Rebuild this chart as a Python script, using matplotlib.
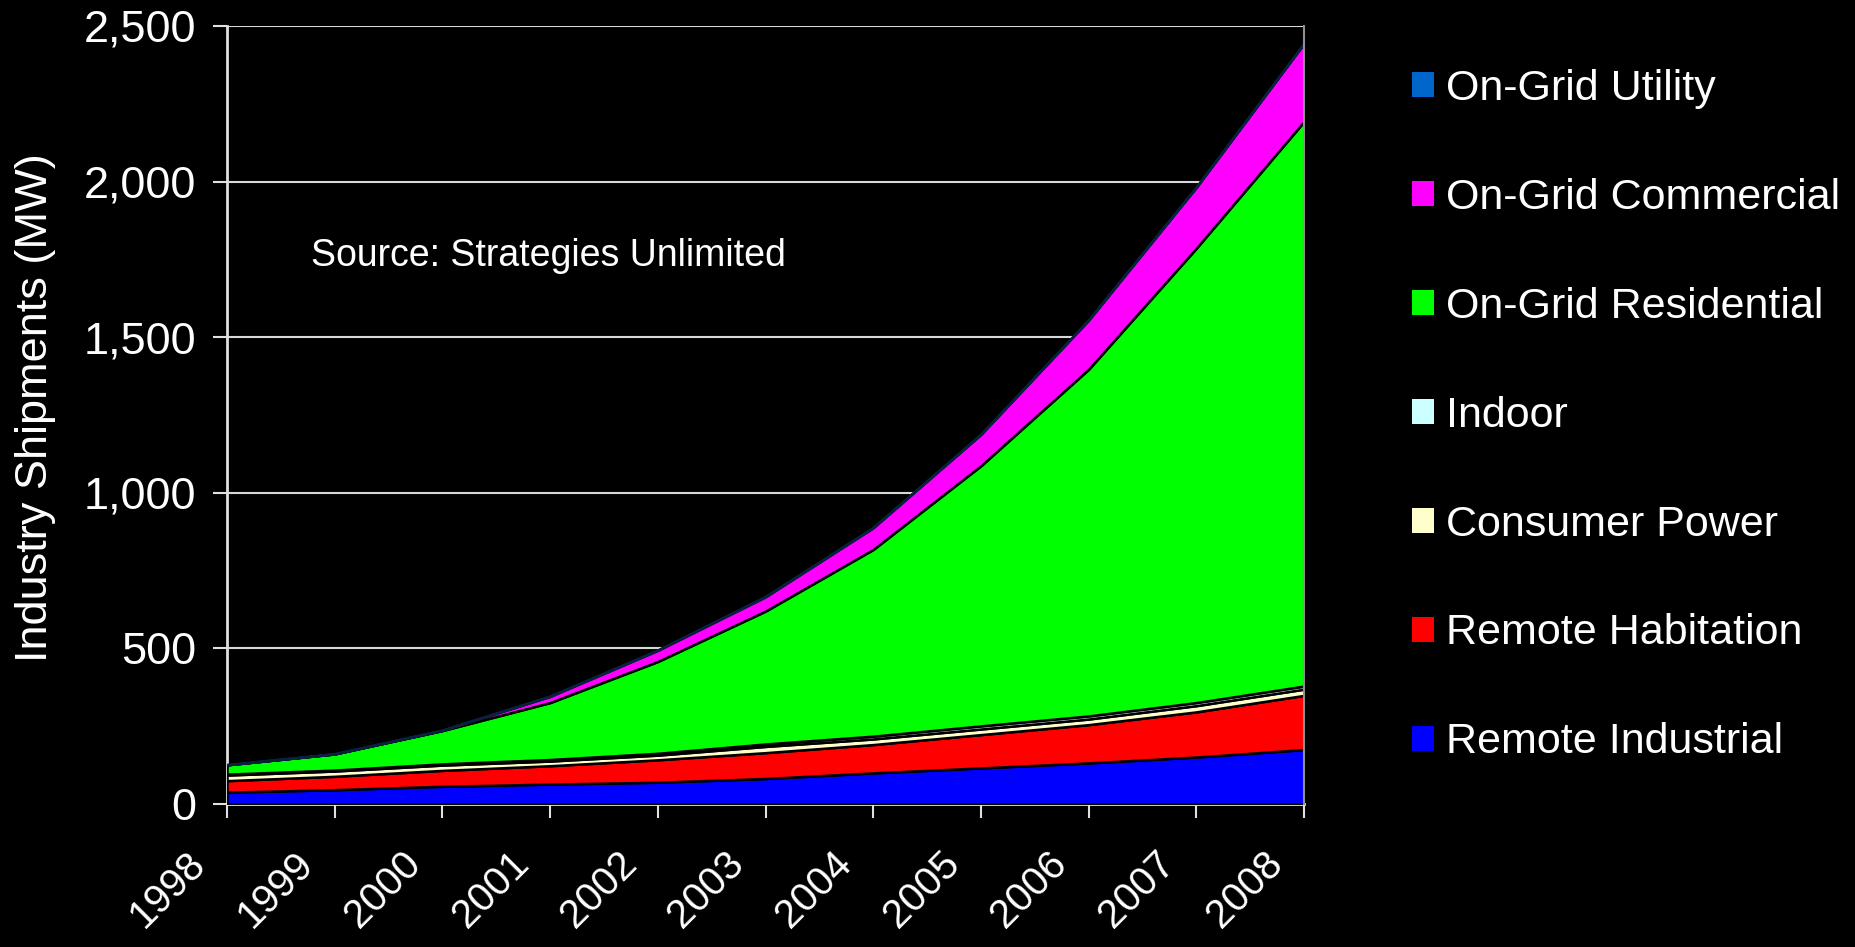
import matplotlib
matplotlib.use("Agg")
import matplotlib.pyplot as plt
from matplotlib.patches import Patch
from matplotlib.transforms import ScaledTranslation
import numpy as np

# ---- data (MW) ----
years = [1998, 1999, 2000, 2001, 2002, 2003, 2004, 2005, 2006, 2007, 2008]
remote_industrial = [38, 46, 57, 64, 70, 82, 100, 116, 132, 151, 175]
remote_habitation = [37, 43, 51, 59, 72, 83, 91, 107, 123, 145, 174]
consumer_power = [18, 17, 17, 15, 15, 20, 18, 18, 18, 20, 20]
indoor = [3, 3, 4, 5, 6, 8, 9, 10, 10, 10, 10]
ongrid_residential = [30, 52, 107, 183, 295, 427, 600, 836, 1114, 1460, 1814]
ongrid_commercial = [0, 0, 1, 20, 36, 46, 70, 101, 158, 196, 251]
ongrid_utility = [1, 1, 1, 1, 1, 1, 1, 1, 1, 1, 1]

series_names = ["Remote Industrial", "Remote Habitation", "Consumer Power", "Indoor",
                "On-Grid Residential", "On-Grid Commercial", "On-Grid Utility"]
series_colors = ["#0000FF", "#FF0000", "#FFFFCC", "#CCFFFF", "#00FF00", "#FF00FF", "#0066CC"]
y_ticks = [0, 500, 1000, 1500, 2000, 2500]
y_tick_labels = ["0", "500", "1,000", "1,500", "2,000", "2,500"]

plt.rcParams['font.family'] = ['Liberation Sans', 'DejaVu Sans']

fig = plt.figure(figsize=(18.56, 9.47), dpi=100, facecolor='black')
ax = fig.add_axes([227/1856, 1 - 804/947, (1304-227)/1856, (804-26)/947])
ax.set_facecolor('black')

data = [remote_industrial, remote_habitation, consumer_power, indoor,
        ongrid_residential, ongrid_commercial, ongrid_utility]
polys = ax.stackplot(years, *data, colors=series_colors, edgecolor='black',
                     linewidth=1.8, zorder=3)
polys[-1].set_edgecolor('#0A2040')

ax.set_xlim(1998, 2008)
ax.set_ylim(0, 2500)
ax.set_yticks(y_ticks)
ax.set_yticklabels(y_tick_labels)
ax.set_xticks(years)
ax.set_xticklabels([str(y) for y in years], rotation=45, ha='right', va='top',
                   rotation_mode='default')

ax.yaxis.grid(True, color='#D8D8D8', linewidth=1.5, zorder=1)
ax.set_axisbelow(True)

for sp in ['left', 'bottom']:
    ax.spines[sp].set_color('#E0E0E0')
    ax.spines[sp].set_linewidth(2)
ax.spines['top'].set_visible(False)
ax.spines['right'].set_color('#909090')
ax.spines['right'].set_linewidth(1.5)
ax.spines['right'].set_zorder(4)

ax.tick_params(axis='y', colors='#E0E0E0', labelsize=32.5, length=10, width=1.5,
               direction='out', pad=12, labelcolor='white')
ax.tick_params(axis='x', colors='#E0E0E0', labelsize=29, length=10, width=1.5,
               direction='out', pad=19, labelcolor='white')

offset = ScaledTranslation(-14/100, 0, fig.dpi_scale_trans)
for lbl in ax.get_xticklabels():
    lbl.set_transform(lbl.get_transform() + offset)

ax.set_ylabel("Industry Shipments (MW)", color='white', fontsize=32.5)
ax.yaxis.set_label_coords(-0.159, 0.509)

fig.text(311/1856, 1 - 256/947, "Source: Strategies Unlimited", color='white',
         fontsize=27, ha='left', va='center')

handles = [Patch(facecolor=c, edgecolor='none') for c in series_colors[::-1]]
labels = series_names[::-1]
fig.legend(handles, labels, loc='upper left', bbox_to_anchor=(1412/1856, 1 - 69/947),
           frameon=False, fontsize=31, labelcolor='white', handlelength=0.52,
           handleheight=0.52, handletextpad=0.28, labelspacing=1.60,
           borderpad=0, borderaxespad=0)

fig.savefig("out.png", dpi=100, facecolor='black')
